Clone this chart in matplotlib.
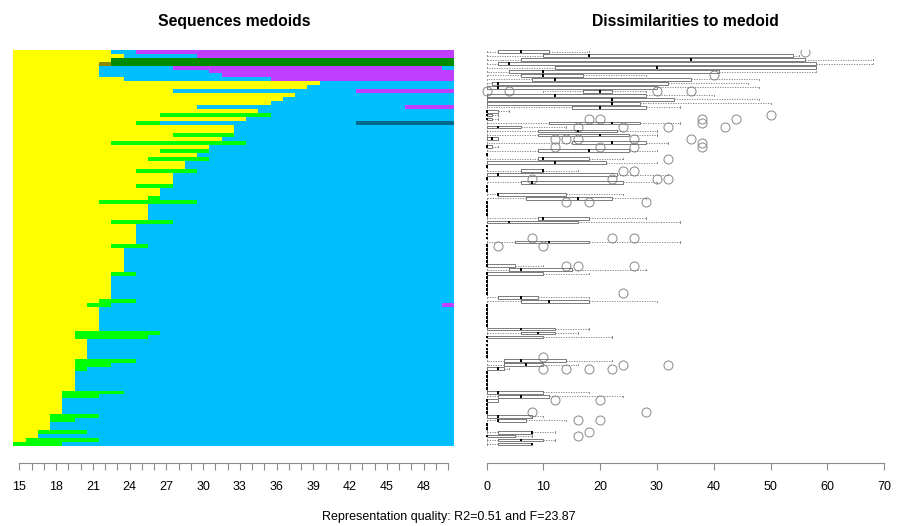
import matplotlib.pyplot as plt
import numpy as np

plt.rcParams['font.family'] = ['Liberation Sans', 'DejaVu Sans']

# state colours (TraMineR palette as it appears in the picture)
state_colors = {
    'Y': '#FFFF00',  # yellow
    'G': '#00FF00',  # bright green
    'B': '#00BFFF',  # deep sky blue
    'P': '#BF3EFF',  # purple
    'D': '#008B00',  # dark green
    'O': '#8B8B00',  # olive
    'T': '#00688B',  # dark teal
}

first_age = 15
ages = list(range(15, 51))

# one medoid per row, top to bottom: state + run length (in years)
medoids = [
    "Y8 B2 P26", "Y9 B6 P21", "Y8 D28", "Y7 O1 D28", "Y7 B6 P22 B1",
    "Y7 B9 P20", "Y7 B10 P19", "Y9 B12 P15", "Y25 B11", "Y24 B12",
    "Y13 B15 P8", "Y23 B13", "Y22 B14", "Y21 B15", "Y15 B17 P4",
    "Y20 B16", "Y12 G9 B15", "Y19 B17", "Y10 G2 B16 T8", "Y18 B18",
    "Y18 B18", "Y13 G5 B18", "Y17 B19", "Y8 G11 B17", "Y16 B20",
    "Y12 G4 B20", "Y15 B21", "Y11 G5 B20", "Y14 B22", "Y14 B22",
    "Y10 G5 B21", "Y13 B23", "Y13 B23", "Y13 B23", "Y10 G3 B23",
    "Y12 B24", "Y12 B24", "Y11 G1 B24", "Y7 G8 B21", "Y11 B25",
    "Y11 B25", "Y11 B25", "Y11 B25", "Y8 G5 B23", "Y10 B26",
    "Y10 B26", "Y10 B26", "Y10 B26", "Y10 B26", "Y8 G3 B25",
    "Y9 B27", "Y9 B27", "Y9 B27", "Y9 B27", "Y9 B27",
    "Y9 B27", "Y8 G2 B26", "Y8 B28", "Y8 B28", "Y8 B28",
    "Y8 B28", "Y8 B28", "Y8 B28", "Y7 G3 B26", "Y6 G2 B27 P1",
    "Y7 B29", "Y7 B29", "Y7 B29", "Y7 B29", "Y7 B29",
    "Y7 B29", "Y5 G7 B24", "Y5 G6 B25", "Y6 B30", "Y6 B30",
    "Y6 B30", "Y6 B30", "Y6 B30", "Y5 G5 B26", "Y5 G3 B28",
    "Y5 G1 B30", "Y5 B31", "Y5 B31", "Y5 B31", "Y5 B31",
    "Y5 B31", "Y4 G5 B27", "Y4 G3 B29", "Y4 B32", "Y4 B32",
    "Y4 B32", "Y4 B32", "Y3 G4 B29", "Y3 G2 B31", "Y3 B33",
    "Y3 B33", "Y2 G4 B30", "Y2 B34", "Y1 G6 B29", "G4 B32",
]

# dissimilarity boxplots (row number -> lo, q1, median, q3, hi)
box_rows = [1, 2, 3, 4, 5, 6, 7, 8, 9, 10,
            11, 12, 13, 14, 15, 16, 17, 18, 19, 20,
            21, 22, 23, 24, 25, 26, 28, 29, 31, 32,
            34, 37, 38, 43, 44, 49, 55, 56, 57, 63,
            64, 71, 72, 73, 79, 80, 81, 87, 88, 89,
            93, 94, 97, 98, 99, 100]
box_lo = [0, 0, 0, 0, 0, 0, 0, 0, 0, 0,
          10, 0, 0, 0, 0, 0, 0, 0, 0, 0,
          0, 0, 0, 0, 0, 0, 0, 0, 0, 0,
          0, 0, 0, 0, 0, 0, 0, 0, 0, 0,
          0, 0, 0, 0, 0, 0, 0, 0, 0, 0,
          0, 0, 0, 0, 0, 0]
box_q1 = [2, 10, 6, 2, 12, 4, 6, 8, 1, 0,
          17, 0, 0, 0, 15, 0, 0, 0, 11, 0,
          9, 9, 0, 15, 0, 9, 9, 0, 6, 0,
          6, 2, 7, 9, 0, 5, 0, 4, 0, 2,
          6, 0, 6, 0, 3, 3, 0, 0, 2, 0,
          0, 2, 2, 0, 2, 2]
box_med = [6, 18, 36, 4, 30, 10, 10, 12, 2, 2,
           20, 12, 22, 22, 20, 0, 0, 0, 22, 2,
           16, 20, 1, 22, 0, 18, 10, 12, 10, 2,
           8, 2, 16, 10, 4, 11, 0, 6, 0, 6,
           11, 6, 9, 0, 6, 7, 2, 2, 6, 0,
           2, 2, 8, 0, 6, 8]
box_q3 = [11, 54, 56, 58, 58, 41, 17, 36, 32, 30,
          22, 28, 33, 27, 28, 2, 1, 1, 27, 6,
          23, 25, 2, 28, 1, 25, 18, 21, 10, 23,
          24, 14, 22, 18, 16, 18, 5, 15, 10, 9,
          18, 12, 12, 10, 14, 10, 3, 10, 11, 2,
          8, 7, 8, 5, 10, 8]
box_hi = [18, 55, 68, 68, 58, 58, 28, 48, 46, 48,
          28, 40, 48, 50, 34, 4, 2, 2, 34, 14,
          30, 30, 2, 32, 2, 30, 24, 30, 16, 32,
          30, 24, 28, 28, 34, 34, 10, 28, 18, 18,
          30, 18, 16, 22, 22, 16, 4, 18, 24, 2,
          10, 14, 12, 8, 12, 8]
fliers = {1: [56], 7: [40], 11: [0, 4, 30, 36], 17: [50],
          18: [18, 20, 38, 44], 19: [38], 20: [16, 24, 32, 42],
          23: [12, 14, 16, 26, 36], 24: [38],
          25: [12, 20, 26, 38], 28: [32], 31: [24, 26], 33: [8, 22, 30, 32],
          39: [14, 18, 28], 48: [8, 22, 26], 50: [2, 10], 55: [14, 16, 26],
          62: [24], 78: [10], 80: [24, 32], 81: [10, 14, 18, 22], 89: [12, 20],
          92: [8, 28], 94: [16, 20], 97: [18], 98: [16]}

n_rows = len(medoids)

fig = plt.figure(figsize=(8.97, 5.26), dpi=100)
ax1 = fig.add_axes([0.01483, 0.1521, 0.4916, 0.7534])
ax2 = fig.add_axes([0.5351, 0.1521, 0.4571, 0.7534])

# left: medoid sequences
for i, spec in enumerate(medoids):
    start = first_age - 0.5
    for run in spec.split():
        st, length = run[0], int(run[1:])
        ax1.barh(i + 1, length, left=start, height=1.0,
                 color=state_colors[st], linewidth=0)
        start += length

ax1.set_xlim(14.5, 50.5)
ax1.set_ylim(n_rows + 0.5, 0.5)
ax1.set_yticks([])
for s in ['top', 'right', 'left']:
    ax1.spines[s].set_visible(False)
ax1.spines['bottom'].set_position(('outward', 12))
ax1.spines['bottom'].set_bounds(15, 50)
ax1.spines['bottom'].set_color('#8c8c8c')
ax1.set_xticks(ages)
ax1.set_xticklabels([str(a) if (a - 15) % 3 == 0 else '' for a in ages])
ax1.tick_params(axis='x', length=5, width=0.8, color='#8c8c8c',
                labelsize=9, pad=8.5)
ax1.set_title('Sequences medoids', fontsize=11.3, fontweight='bold', pad=17)

# right: boxplots of dissimilarities to medoid
stats = []
positions = []
for r in range(1, n_rows + 1):
    if r in box_rows:
        j = box_rows.index(r)
        s = dict(whislo=box_lo[j], q1=box_q1[j], med=box_med[j],
                 q3=box_q3[j], whishi=box_hi[j])
    else:
        s = dict(whislo=0, q1=0, med=0, q3=0, whishi=0)
    s['fliers'] = fliers.get(r, [])
    stats.append(s)
    positions.append(r)

ax2.bxp(stats, positions=positions, widths=0.7, orientation='horizontal',
        capwidths=0.35, manage_ticks=False,
        boxprops=dict(color='#666666', linewidth=0.6),
        medianprops=dict(color='black', linewidth=1.4),
        whiskerprops=dict(color='#777777', linewidth=0.6, linestyle=(0, (1.5, 1.5))),
        capprops=dict(color='#777777', linewidth=0.6),
        flierprops=dict(marker='o', markerfacecolor='none',
                        markeredgecolor='#888888', markersize=6.5,
                        markeredgewidth=0.7))

ax2.set_xlim(-1.18, 71.05)
ax2.set_ylim(n_rows + 0.5, 0.5)
ax2.set_yticks([])
for s in ['top', 'right', 'left']:
    ax2.spines[s].set_visible(False)
ax2.spines['bottom'].set_position(('outward', 12))
ax2.spines['bottom'].set_bounds(0, 70)
ax2.spines['bottom'].set_color('#8c8c8c')
ax2.set_xticks(range(0, 71, 10))
ax2.tick_params(axis='x', length=5, width=0.8, color='#8c8c8c',
                labelsize=9, pad=8.5)
ax2.set_title('Dissimilarities to medoid', fontsize=11.3, fontweight='bold', pad=17)

fig.text(0.5, 0.017, 'Representation quality: R2=0.51 and F=23.87',
         ha='center', va='center', fontsize=9)

fig.savefig('out.png', dpi=100)
